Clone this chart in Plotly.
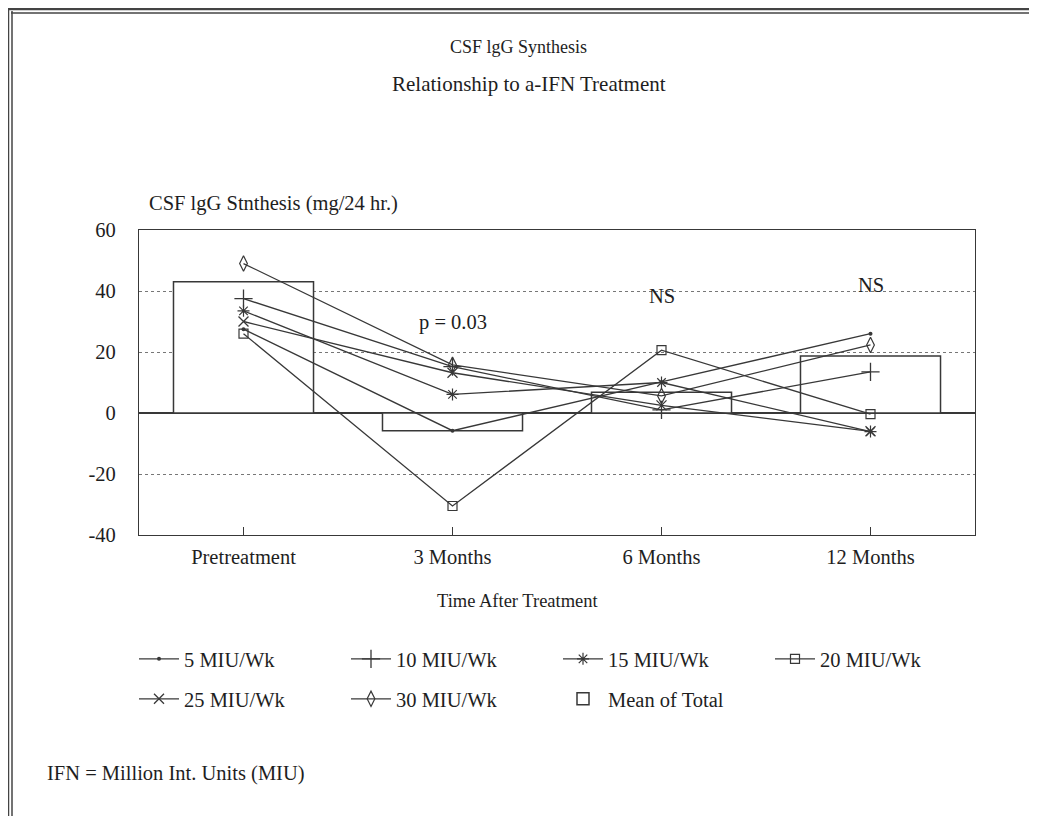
import plotly.graph_objects as go

# ---- data -------------------------------------------------------------
categories = ["Pretreatment", "3 Months", "6 Months", "12 Months"]
x_pos = [0, 1, 2, 3]
mean_total = [43.0, -5.8, 6.8, 18.7]
miu5 = [27.5, -5.8, 10.2, 26.0]
miu10 = [37.5, 15.2, 1.0, 13.5]
miu15 = [33.5, 6.1, 10.0, -6.1]
miu20 = [26.0, -30.5, 20.6, -0.4]
miu25 = [30.0, 13.2, 2.5, -6.0]
miu30 = [49.0, 15.8, 5.6, 22.3]
sig_labels = ["p = 0.03", "NS", "NS"]
sig_x = [1, 2, 3]
sig_y = [29.8, 38.4, 42.0]
y_ticks = [-40, -20, 0, 20, 40, 60]
y_tick_labels = ["-40", "-20", "0", "20", "40", "60"]

# ---- style ------------------------------------------------------------
INK = "#383838"
TXT = "#1e1e1e"
FONT = "Liberation Serif, Times New Roman, serif"
OFF = 8                      # default body margin of the html page
W, H = 1037 - OFF, 816 - OFF
# plot area in screen pixels -> figure pixels
L, R, T, B = 139 - OFF, 975 - OFF, 230 - OFF, 535 - OFF


def px_x(px):
    """screen x pixel -> paper coordinate"""
    return (px - OFF - L) / (R - L)


def px_y(py):
    """screen y pixel -> paper coordinate"""
    return (B - (py - OFF)) / (B - T)


fig = go.Figure()

fig.add_trace(go.Bar(
    x=x_pos, y=mean_total, width=0.67, name="Mean of Total",
    marker=dict(color="white", line=dict(color=INK, width=1.5)),
    legend="legend2", legendrank=3,
))

series = [
    ("5 MIU/Wk", miu5, dict(symbol="circle", size=4, color=INK), "legend", 1),
    ("10 MIU/Wk", miu10, dict(symbol="cross-thin", size=13, color=INK,
                              line=dict(color=INK, width=1.3)), "legend", 2),
    ("15 MIU/Wk", miu15, dict(symbol="asterisk", size=10, color=INK,
                              line=dict(color=INK, width=1.2)), "legend", 3),
    ("20 MIU/Wk", miu20, dict(symbol="square-open", size=9, color=INK,
                              line=dict(color=INK, width=1.2)), "legend", 4),
    ("25 MIU/Wk", miu25, dict(symbol="x-thin", size=10, color=INK,
                              line=dict(color=INK, width=1.3)), "legend2", 1),
    ("30 MIU/Wk", miu30, dict(symbol="diamond-tall-open", size=11, color=INK,
                              line=dict(color=INK, width=1.2)), "legend2", 2),
]
for name, vals, mk, lg, rank in series:
    fig.add_trace(go.Scatter(
        x=x_pos, y=vals, name=name, mode="lines+markers",
        line=dict(color=INK, width=1.3), marker=mk,
        legend=lg, legendrank=rank,
    ))

annotations = []
for txt, xv, yv in zip(sig_labels, sig_x, sig_y):
    annotations.append(dict(x=xv, y=yv, xref="x", yref="y", text=txt,
                            showarrow=False, font=dict(size=20.5, color=TXT)))

annotations += [
    dict(x=px_x(518), y=px_y(47), xref="paper", yref="paper",
         text="CSF lgG Synthesis", showarrow=False,
         yanchor="middle", font=dict(size=18, color=TXT)),
    dict(x=px_x(529), y=px_y(84), xref="paper", yref="paper",
         text="Relationship to a-IFN Treatment", showarrow=False,
         yanchor="middle", font=dict(size=21, color=TXT)),
    dict(x=px_x(147), y=px_y(203), xref="paper", yref="paper",
         text="CSF lgG Stnthesis (mg/24 hr.)", showarrow=False,
         xanchor="left", yanchor="middle", font=dict(size=20.5, color=TXT)),
    dict(x=px_x(518), y=px_y(601), xref="paper", yref="paper",
         text="Time After Treatment", showarrow=False,
         yanchor="middle", font=dict(size=18.5, color=TXT)),
    dict(x=px_x(45), y=px_y(773), xref="paper", yref="paper",
         text="IFN = Million Int. Units (MIU)", showarrow=False,
         xanchor="left", yanchor="middle", font=dict(size=20.5, color=TXT)),
]

# page frame (double line at top and left)
shapes = []
for scr, wd in [(9, 2.5), (13, 1.5)]:
    shapes.append(dict(type="line", xref="paper", yref="paper",
                       x0=px_x(scr - 2), x1=px_x(1045), y0=px_y(scr), y1=px_y(scr),
                       line=dict(color="#444", width=wd)))
    shapes.append(dict(type="line", xref="paper", yref="paper",
                       x0=px_x(scr - 1), x1=px_x(scr - 1), y0=px_y(scr - 2), y1=px_y(830),
                       line=dict(color="#444", width=wd)))

legend_common = dict(
    orientation="h", xanchor="left", yanchor="middle",
    font=dict(family=FONT, size=20.5, color=TXT),
    itemwidth=40, entrywidth=157, entrywidthmode="pixels",
    bgcolor="rgba(0,0,0,0)", borderwidth=0, itemclick=False,
)

fig.update_layout(
    width=W, height=H,
    margin=dict(l=L, r=W - R, t=T, b=H - B, pad=0),
    paper_bgcolor="white", plot_bgcolor="white",
    font=dict(family=FONT, size=20.5, color=TXT),
    showlegend=True,
    legend=dict(x=px_x(134), y=px_y(659), **legend_common),
    legend2=dict(x=px_x(134), y=px_y(699), **legend_common),
    annotations=annotations,
    shapes=shapes,
    xaxis=dict(
        range=[-0.5, 3.5], tickvals=x_pos, ticktext=categories,
        showgrid=False, zeroline=False,
        showline=True, linecolor=INK, linewidth=1.3, mirror=True,
        ticks="inside", ticklen=8, tickcolor=INK, tickwidth=1.2,
        ticklabelstandoff=3,
        tickfont=dict(size=20.5, color=TXT),
    ),
    yaxis=dict(
        range=[-40, 60], tickvals=y_ticks, ticktext=y_tick_labels,
        showgrid=True, gridcolor="#777", griddash="dot", gridwidth=1,
        zeroline=True, zerolinecolor=INK, zerolinewidth=1.5,
        showline=True, linecolor=INK, linewidth=1.3, mirror=True,
        ticks="", ticklabelstandoff=18,
        tickfont=dict(size=20.5, color=TXT),
    ),
)

fig.write_html("out.html")
